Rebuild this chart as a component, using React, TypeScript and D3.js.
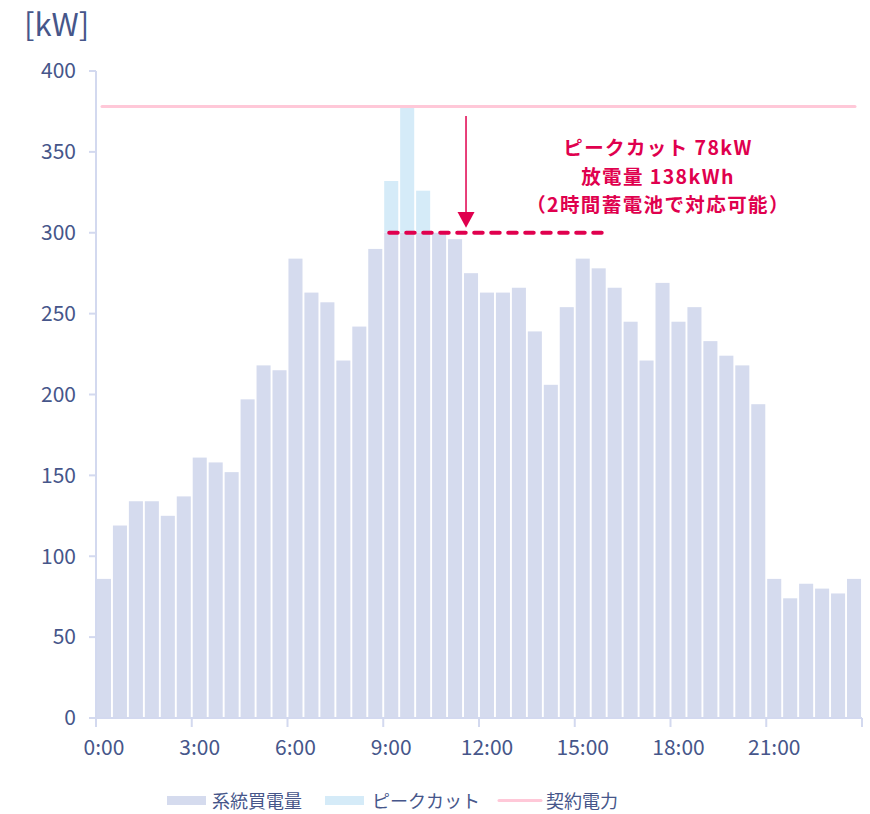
import React from "react";
import * as d3 from "d3";

// Half-hour slots 0:00 .. 23:30
const slots: string[] = d3.range(48).map((i) => `${Math.floor(i / 2)}:${i % 2 ? "30" : "00"}`);

// Grid purchase (kW) after peak cut
const gridPower: number[] = [
  86, 119, 134, 134, 125, 137, 161, 158, 152, 197, 218, 215,
  284, 263, 257, 221, 242, 290, 300, 300, 300, 300, 296, 275,
  263, 263, 266, 239, 206, 254, 284, 278, 266, 245, 221, 269,
  245, 254, 233, 224, 218, 194, 86, 74, 83, 80, 77, 86,
];

// Demand above the cut level covered by battery discharge (kW)
const peakCut: number[] = [
  0, 0, 0, 0, 0, 0, 0, 0, 0, 0, 0, 0,
  0, 0, 0, 0, 0, 0, 32, 78, 26, 0, 0, 0,
  0, 0, 0, 0, 0, 0, 0, 0, 0, 0, 0, 0,
  0, 0, 0, 0, 0, 0, 0, 0, 0, 0, 0, 0,
];

const contractPower = 378;
const cutLevel = 300;
const yTicks: number[] = [0, 50, 100, 150, 200, 250, 300, 350, 400];
const xTickLabels: string[] = ["0:00", "3:00", "6:00", "9:00", "12:00", "15:00", "18:00", "21:00"];
const annotation: string[] = ["ピークカット 78kW", "放電量 138kWh", "（2時間蓄電池で対応可能）"];
const legendItems: string[] = ["系統買電量", "ピークカット", "契約電力"];

const W = 870;
const H = 814;
const left = 96;
const right = 862;
const top = 71;
const bottom = 718;

const GRAY = "#d5dbee";
const BLUE = "#d5ebf8";
const PINK = "#ffc8d8";
const RED = "#e0004e";
const TEXT = "#46568a";
const AXIS = "#d3d9ef";
const FONT = "'Noto Sans CJK JP', 'Noto Sans', sans-serif";

export default function App() {
  const x = d3.scaleBand<string>().domain(slots).range([left, right]).paddingInner(0.12).paddingOuter(0.06);
  const y = d3.scaleLinear().domain([0, 400]).range([bottom, top]);
  const step = x.step();
  const edge = (i: number) => left + i * step;

  const cutStart = x(slots[18])! + 5;
  const cutEnd = x(slots[32])! - 1;
  const arrowX = x(slots[23])! + x.bandwidth() / 2 - 5;

  return (
    <svg width={W} height={H} style={{ position: "absolute", left: 0, top: 0 }} fontFamily={FONT}>
      <rect width={W} height={H} fill="#fff" />
      <text x={24} y={36} fontSize={31} fill={TEXT}>[kW]</text>

      {/* y axis */}
      <line x1={left} x2={left} y1={top} y2={bottom} stroke={AXIS} strokeWidth={2} />
      {yTicks.map((t) => (
        <g key={t}>
          <line x1={left - 7} x2={left} y1={y(t)} y2={y(t)} stroke={AXIS} strokeWidth={2} />
          <text x={76} y={y(t)} dy="0.35em" textAnchor="end" fontSize={21} fill={TEXT}>{t}</text>
        </g>
      ))}

      {/* bars */}
      {slots.map((s, i) => (
        <g key={s}>
          <rect x={x(s)} width={x.bandwidth()} y={y(gridPower[i])} height={bottom - y(gridPower[i])} fill={GRAY} />
          {peakCut[i] > 0 && (
            <rect x={x(s)} width={x.bandwidth()} y={y(gridPower[i] + peakCut[i])} height={y(gridPower[i]) - y(gridPower[i] + peakCut[i])} fill={BLUE} />
          )}
        </g>
      ))}

      {/* x axis */}
      <line x1={left} x2={right} y1={bottom} y2={bottom} stroke={AXIS} strokeWidth={2} />
      {d3.range(0, 49, 6).map((i) => (
        <line key={i} x1={edge(i)} x2={edge(i)} y1={bottom} y2={bottom + 9} stroke={AXIS} strokeWidth={2} />
      ))}
      {xTickLabels.map((lab, k) => (
        <text key={lab} x={x(slots[k * 6])! + x.bandwidth() / 2} y={755} textAnchor="middle" fontSize={21} fill={TEXT}>{lab}</text>
      ))}

      {/* contract power */}
      <line x1={left + 6} x2={855} y1={y(contractPower)} y2={y(contractPower)} stroke={PINK} strokeWidth={3} strokeLinecap="round" />

      {/* peak cut level */}
      <line x1={cutStart} x2={cutEnd} y1={y(cutLevel)} y2={y(cutLevel)} stroke={RED} strokeWidth={4} strokeDasharray="8.5 8.5" strokeLinecap="round" />
      <line x1={arrowX} x2={arrowX} y1={116} y2={214} stroke={RED} strokeWidth={1.5} />
      <path d={`M${arrowX - 8.5},${212} L${arrowX + 8.5},${212} L${arrowX},${y(cutLevel) - 5} Z`} fill={RED} />

      {annotation.map((line, i) => (
        <text key={i} x={658} y={155 + i * 28.5} textAnchor="middle" fontSize={19.5} letterSpacing={1.4} fontWeight={700} fill={RED}>{line}</text>
      ))}

      {/* legend */}
      <rect x={167} y={796} width={39} height={9} fill={GRAY} />
      <text x={212} y={808} fontSize={18} fill={TEXT}>{legendItems[0]}</text>
      <rect x={325} y={796} width={39} height={9} fill={BLUE} />
      <text x={372} y={808} fontSize={18} fill={TEXT}>{legendItems[1]}</text>
      <line x1={499} x2={541} y1={800.5} y2={800.5} stroke={PINK} strokeWidth={3} strokeLinecap="round" />
      <text x={546} y={808} fontSize={18} fill={TEXT}>{legendItems[2]}</text>
    </svg>
  );
}
